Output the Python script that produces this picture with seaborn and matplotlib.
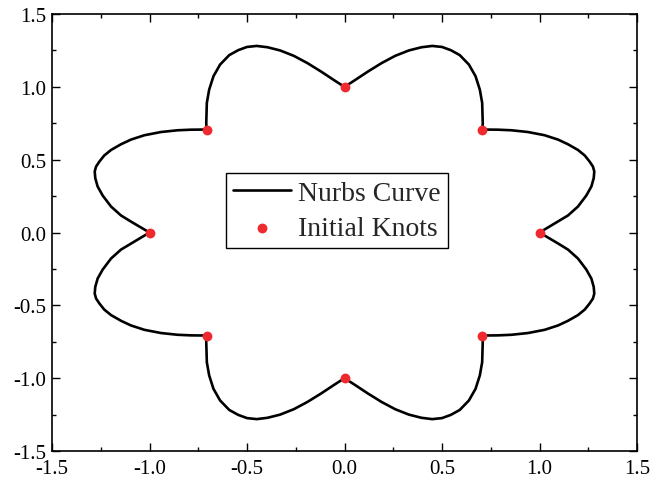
import matplotlib
matplotlib.use("Agg")
import matplotlib.pyplot as plt
from matplotlib.ticker import MultipleLocator, FormatStrFormatter
import seaborn as sns

# ---- data ----
curve_x = [
    1.000, 1.044, 1.095, 1.146, 1.197, 1.240, 1.266, 1.278, 1.281, 1.274, 1.257, 1.232, 1.197, 1.146, 1.095, 1.026, 0.941, 0.856, 0.787, 0.7071,
    0.709, 0.708, 0.706, 0.694, 0.672, 0.638, 0.591, 0.545, 0.500, 0.450, 0.395, 0.330, 0.260, 0.190, 0.120, 0.050, 0.000,
    -0.050, -0.120, -0.190, -0.260, -0.330, -0.395, -0.450, -0.500, -0.545, -0.591, -0.638, -0.672, -0.694, -0.706, -0.708, -0.709, -0.7071,
    -0.787, -0.856, -0.941, -1.026, -1.095, -1.146, -1.197, -1.232, -1.257, -1.274, -1.281, -1.278, -1.266, -1.240, -1.197, -1.146, -1.095, -1.044, -1.000,
    -1.044, -1.095, -1.146, -1.197, -1.240, -1.266, -1.278, -1.281, -1.274, -1.257, -1.232, -1.197, -1.146, -1.095, -1.026, -0.941, -0.856, -0.787, -0.7071,
    -0.709, -0.708, -0.706, -0.694, -0.672, -0.638, -0.591, -0.545, -0.500, -0.450, -0.395, -0.330, -0.260, -0.190, -0.120, -0.050, 0.000,
    0.050, 0.120, 0.190, 0.260, 0.330, 0.395, 0.450, 0.500, 0.545, 0.591, 0.638, 0.672, 0.694, 0.706, 0.708, 0.709, 0.7071,
    0.787, 0.856, 0.941, 1.026, 1.095, 1.146, 1.197, 1.232, 1.257, 1.274, 1.281, 1.278, 1.266, 1.240, 1.197, 1.146, 1.095, 1.044, 1.000,
]
curve_y = [
    0.000, 0.035, 0.075, 0.117, 0.178, 0.254, 0.316, 0.373, 0.419, 0.453, 0.487, 0.529, 0.567, 0.606, 0.638, 0.668, 0.690, 0.702, 0.706, 0.7071,
    0.750, 0.800, 0.890, 0.981, 1.073, 1.153, 1.218, 1.252, 1.274, 1.281, 1.272, 1.250, 1.213, 1.163, 1.105, 1.043, 1.000,
    1.043, 1.105, 1.163, 1.213, 1.250, 1.272, 1.281, 1.274, 1.252, 1.218, 1.153, 1.073, 0.981, 0.890, 0.800, 0.750, 0.7071,
    0.706, 0.702, 0.690, 0.668, 0.638, 0.606, 0.567, 0.529, 0.487, 0.453, 0.419, 0.373, 0.316, 0.254, 0.178, 0.117, 0.075, 0.035, 0.000,
    -0.035, -0.075, -0.117, -0.178, -0.254, -0.316, -0.373, -0.419, -0.453, -0.487, -0.529, -0.567, -0.606, -0.638, -0.668, -0.690, -0.702, -0.706, -0.7071,
    -0.750, -0.800, -0.890, -0.981, -1.073, -1.153, -1.218, -1.252, -1.274, -1.281, -1.272, -1.250, -1.213, -1.163, -1.105, -1.043, -1.000,
    -1.043, -1.105, -1.163, -1.213, -1.250, -1.272, -1.281, -1.274, -1.252, -1.218, -1.153, -1.073, -0.981, -0.890, -0.800, -0.750, -0.7071,
    -0.706, -0.702, -0.690, -0.668, -0.638, -0.606, -0.567, -0.529, -0.487, -0.453, -0.419, -0.373, -0.316, -0.254, -0.178, -0.117, -0.075, -0.035, 0.000,
]
knot_x = [1.0, 0.7071, 0.0, -0.7071, -1.0, -0.7071, 0.0, 0.7071]
knot_y = [0.0, 0.7071, 1.0, 0.7071, 0.0, -0.7071, -1.0, -0.7071]
curve_label = "Nurbs Curve"
knot_label = "Initial Knots"
axis_ticks = [-1.5, -1.0, -0.5, 0.0, 0.5, 1.0, 1.5]

# ---- style ----
sns.set_theme(style="ticks")
plt.rcParams["font.family"] = ["Liberation Serif", "DejaVu Serif"]
plt.rcParams["axes.unicode_minus"] = False

fig = plt.figure(figsize=(6.5, 4.85), dpi=100)
ax = fig.add_axes([0.08, 0.068, 0.90, 0.901])

sns.lineplot(x=curve_x, y=curve_y, sort=False, estimator=None, color="black",
             linewidth=1.9, label=curve_label, ax=ax)
sns.scatterplot(x=knot_x, y=knot_y, color="#ee2a2f", s=50, linewidth=0,
                label=knot_label, ax=ax, zorder=3)

ax.set_xlim(axis_ticks[0], axis_ticks[-1])
ax.set_ylim(axis_ticks[0], axis_ticks[-1])
ax.set_xticks(axis_ticks)
ax.set_yticks(axis_ticks)
ax.xaxis.set_major_formatter(FormatStrFormatter("%.1f"))
ax.yaxis.set_major_formatter(FormatStrFormatter("%.1f"))
ax.xaxis.set_minor_locator(MultipleLocator(0.25))
ax.yaxis.set_minor_locator(MultipleLocator(0.25))
ax.tick_params(which="both", direction="in", top=True, right=True,
               labelsize=15, colors="black", width=1.0)
ax.tick_params(which="major", length=5.5)
ax.tick_params(which="minor", length=3)
ax.tick_params(axis="x", which="major", pad=6)
ax.tick_params(axis="y", which="major", pad=4)
for sp in ax.spines.values():
    sp.set_visible(True)
    sp.set_linewidth(1.2)
    sp.set_color("black")
ax.set_xlabel("")
ax.set_ylabel("")

leg = ax.legend(loc="center", bbox_to_anchor=(0.487, 0.55), fontsize=20,
                frameon=True, fancybox=False, framealpha=1, edgecolor="black",
                handlelength=2.1, handletextpad=0.25, borderpad=0.25,
                labelspacing=0.35, borderaxespad=0)
leg.get_frame().set_linewidth(1.0)

fig.savefig("out.png", dpi=100)
